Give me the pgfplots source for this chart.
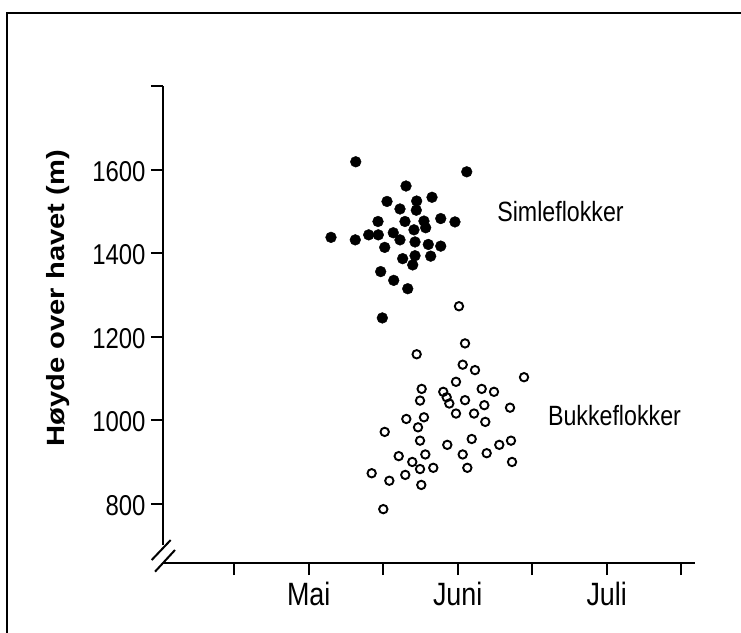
\documentclass[border=0pt]{standalone}
\usepackage{fontspec}
\setmainfont{Liberation Sans}
\usepackage{graphicx}
\usepackage{pgfplots}
\pgfplotsset{compat=1.18}
\newcommand\st[1]{\scalebox{1}[1.2]{#1}}

% Simleflokker (filled): x in half-month ticks, y in m
\pgfplotstableread{
x y
2.631 1619
4.121 1595
3.306 1561
3.655 1534
3.051 1524
3.449 1525
3.225 1506
3.444 1503
2.930 1476
3.292 1476
3.547 1477
3.772 1483
3.963 1475
3.570 1461
3.413 1456
2.299 1438
2.625 1432
2.805 1444
2.934 1444
3.135 1449
3.225 1432
3.427 1427
3.605 1421
3.772 1417
3.020 1414
3.427 1394
3.637 1393
3.261 1387
3.396 1372
2.966 1356
3.141 1335
3.329 1315
2.988 1245
}\simle

% Bukkeflokker (open)
\pgfplotstableread{
x y
4.017 1273
4.098 1184
3.449 1158
4.067 1133
4.232 1120
4.890 1103
3.977 1092
3.516 1075
3.806 1068
4.322 1075
4.487 1068
3.852 1055
3.887 1040
3.494 1047
4.098 1048
4.357 1036
4.702 1030
3.977 1016
4.219 1016
3.547 1007
3.310 1003
4.370 996
3.467 983
3.020 972
3.494 951
4.188 955
3.860 941
4.715 951
4.558 941
3.208 914
3.565 918
4.067 918
4.389 921
3.390 900
3.672 886
3.494 883
4.129 886
4.729 900
2.845 873
3.296 869
3.082 855
3.511 845
3.001 787
}\bukke

\begin{document}
\begin{tikzpicture}
\begin{axis}[
    at={(0,0)}, anchor=south west,
    x=74.5bp, y=0.4175bp,
    xmin=0.044, xmax=7.185,
    ymin=658, ymax=1800,
    axis x line*=bottom,
    axis y line*=left,
    y axis line style={draw=none},
    x axis line style={line width=2bp},
    tick align=outside,
    major tick length=12bp,
    tick style={line width=2bp, black},
    xtick={1,2,3,4,5,6,7},
    xticklabels={,\st{Mai},,\st{Juni},,\st{Juli},},
    ytick={800,1000,1200,1400,1600,1800},
    yticklabels={\st{800},\st{1000},\st{1200},\st{1400},\st{1600},},
    xticklabel style={font=\fontsize{27}{30}\selectfont, yshift=-4bp},
    yticklabel style={font=\fontsize{24}{28}\selectfont, xshift=-2bp, yshift=-1.5bp},
    ylabel={\scalebox{1.17}[1]{Høyde over havet (m)}},
    every axis y label/.style={at={(axis description cs:-0.198,0.555)},
        rotate=90, anchor=center, font=\bfseries\fontsize{25}{28}\selectfont},
    clip=false,
]
\addplot[only marks, mark=*, mark size=5.4bp,
    mark options={draw=black, fill=black}] table[x=x, y=y] {\simle};
\addplot[only marks, mark=o, mark size=4.2bp,
    mark options={draw=black, line width=1.9bp, fill=white}] table[x=x, y=y] {\bukke};

\node[font=\fontsize{23.3}{27}\selectfont] at (axis cs:5.38,1499) {\st{Simleflokker}};
\node[font=\fontsize{23.3}{27}\selectfont] at (axis cs:6.104,1010) {\st{Bukkeflokker}};

% y axis line with break at the corner
\draw[line width=2bp] (axis cs:0.044,701) -- (axis cs:0.044,1800);
\end{axis}
% break marks
\draw[line width=2bp] (-11.3bp,3bp) -- (7.7bp,23bp);
\draw[line width=2bp] (-8bp,-8.7bp) -- (12bp,13bp);
% frame (top and left edge of the scan)
\draw[line width=2.5bp] (-156bp,-70bp) -- (-156bp,550bp) -- (578bp,550bp);
\pgfresetboundingbox
\path[use as bounding box] (-163bp,-70bp) rectangle (578bp,563bp);
\end{tikzpicture}
\end{document}
